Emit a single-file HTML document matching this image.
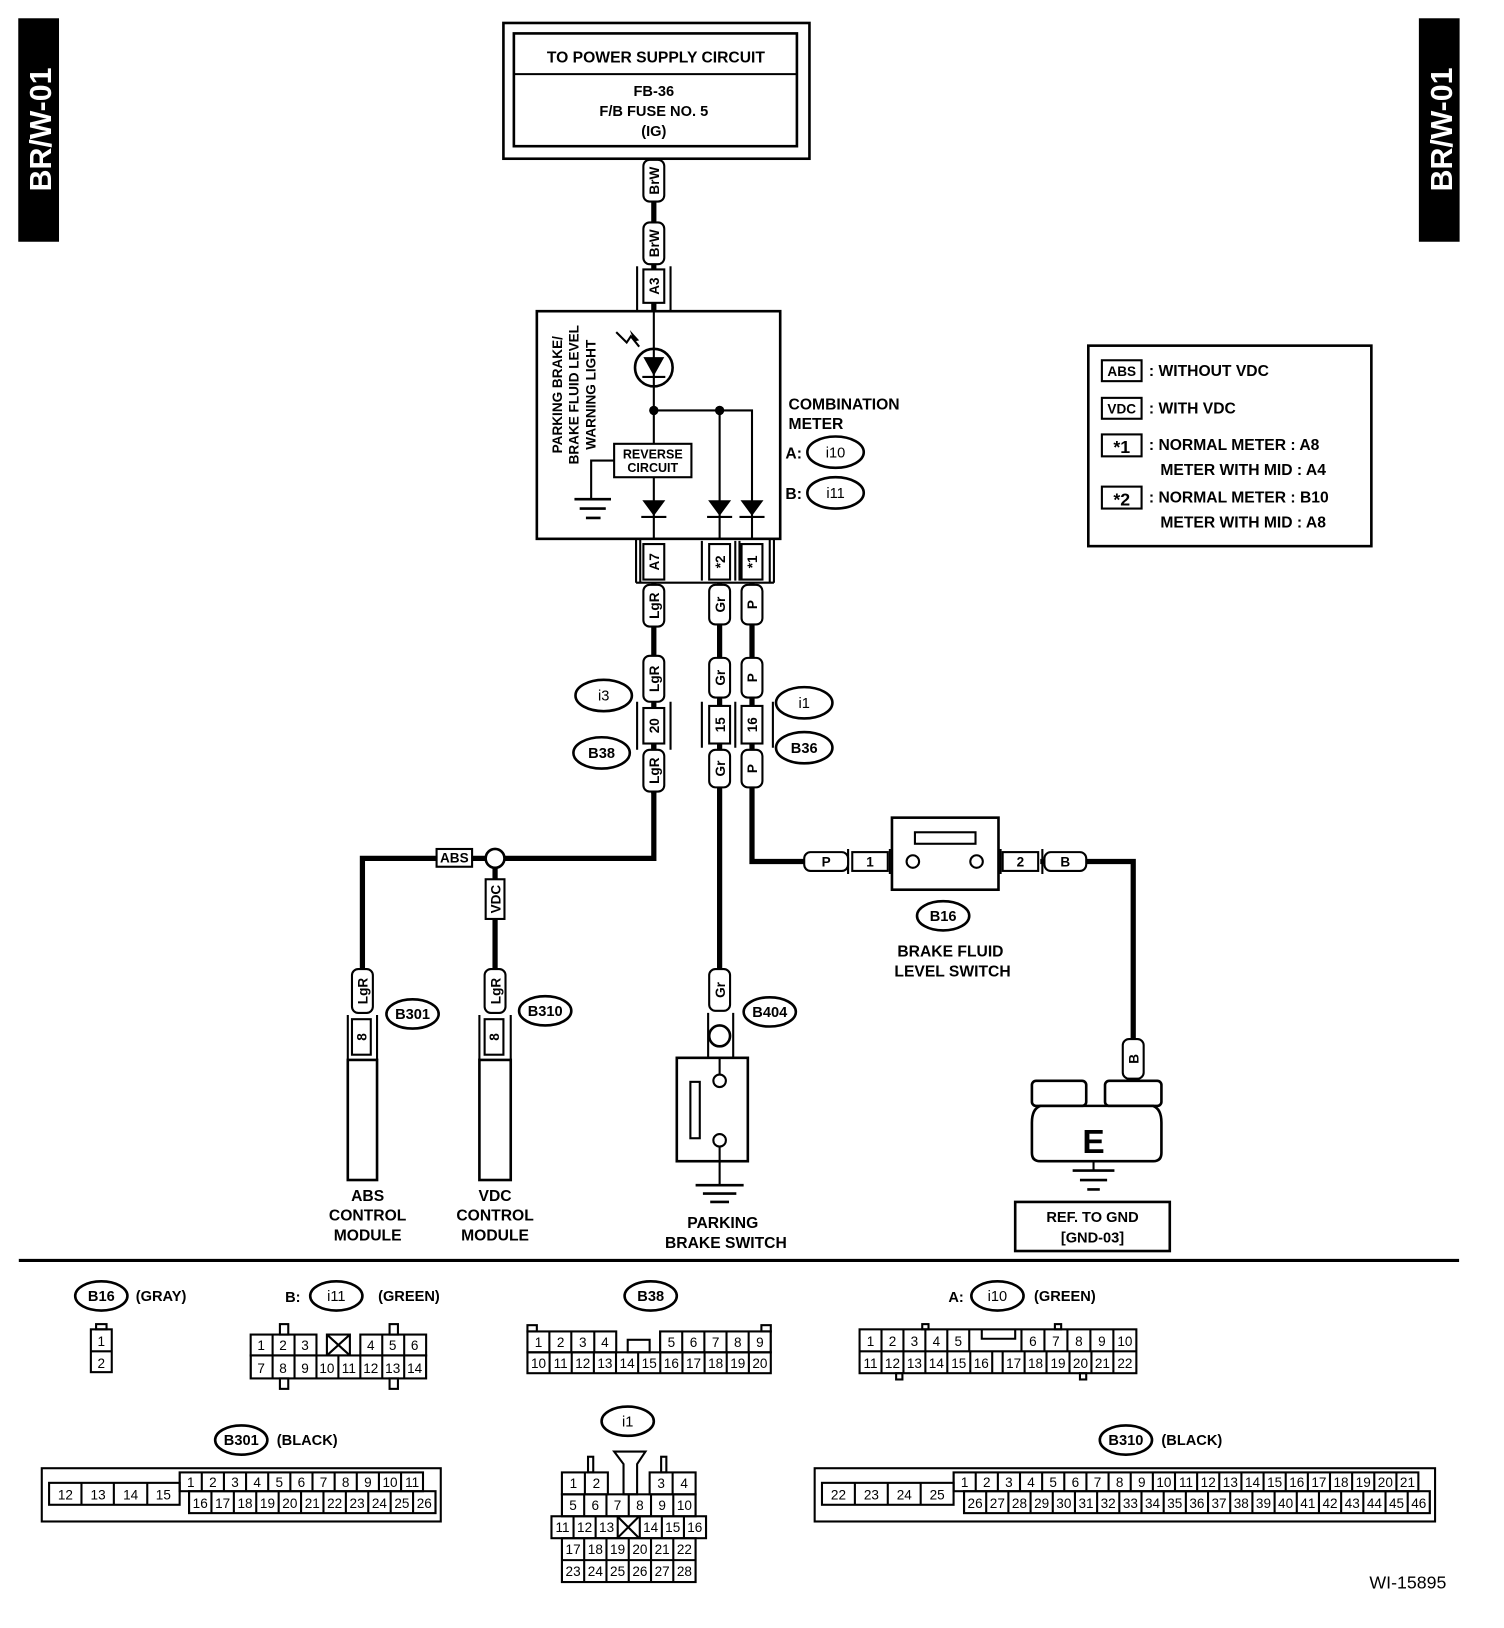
<!DOCTYPE html>
<html><head><meta charset="utf-8"><style>
html,body{margin:0;padding:0;background:#fff;}
svg{display:block;}
text{font-family:"Liberation Sans",sans-serif;font-weight:bold;fill:#000;}
.n{font-weight:normal;font-size:13px;text-anchor:middle;}
.w{font-size:13px;text-anchor:middle;}
.c{text-anchor:middle;}
.r{font-weight:normal;}
</style></head><body>
<svg width="1504" height="1628" viewBox="0 0 1440 1559" preserveAspectRatio="none" xmlns="http://www.w3.org/2000/svg">
<g fill="none" stroke="#000">
<rect x="18" y="18" width="38" height="213" fill="#000"/>
<rect x="1359" y="18" width="38" height="213" fill="#000"/>
<rect x="482" y="22" width="293" height="130" stroke-width="2.5"/>
<rect x="492" y="32" width="271" height="108" stroke-width="2.5"/>
<line x1="492" y1="71" x2="763" y2="71" stroke-width="2"/>
<line x1="626" y1="152" x2="626" y2="298" stroke-width="5"/>
<line x1="626" y1="558" x2="626" y2="760" stroke-width="5"/>
<path d="M626 700 V822 H347 V930" stroke-width="5"/>
<line x1="474" y1="830" x2="474" y2="930" stroke-width="5"/>
<line x1="689" y1="558" x2="689" y2="930" stroke-width="5"/>
<path d="M720 558 V825 H770" stroke-width="5"/>
<path d="M1040 825 H1085 V995" stroke-width="5"/>
<line x1="996" y1="825" x2="1000" y2="825" stroke-width="5"/>
<line x1="610" y1="255" x2="610" y2="298" stroke-width="2"/><line x1="642" y1="255" x2="642" y2="298" stroke-width="2"/>
<rect x="514" y="298" width="233" height="218" stroke-width="2.5" fill="#fff"/>
<line x1="626" y1="298" x2="626" y2="516" stroke-width="2"/>
<circle cx="626" cy="352" r="18" stroke-width="2.5" fill="#fff"/>
<path d="M626 334 V370" stroke-width="2"/>
<path d="M689 393 V516 M626 393 H720 V516" stroke-width="2"/>
<rect x="588" y="425" width="74" height="32" stroke-width="2" fill="#fff"/>
<path d="M588 441 H566 V478" stroke-width="2"/>
<path d="M550 478 H585 M555 487 H580 M561 496 H575" stroke-width="2.5"/>
<path d="M590 318 L600 328 L604 322 L612 332" stroke-width="2"/>
<path d="M609 516 V558 M613 516 V558 M737 516 V558 M741 516 V558 M609 558 H741" stroke-width="2"/>
<path d="M672 518 V556 M704 518 V556 M708 518 V556" stroke-width="2"/>
<path d="M610 672 V718 M642 672 V718" stroke-width="2"/>
<path d="M672 672 V716 M740 672 V716 M704 672 V716" stroke-width="2"/>
<circle cx="474" cy="822" r="9" stroke-width="2.5" fill="#fff"/>
<path d="M333 972 V1015 M361 972 V1015 M459 972 V1015 M489 972 V1015" stroke-width="2"/>
<rect x="333" y="1015" width="28" height="115" stroke-width="2.5"/>
<rect x="459" y="1015" width="30" height="115" stroke-width="2.5"/>
<path d="M678 970 V1013 M702 970 V1013" stroke-width="2"/>
<circle cx="689" cy="992" r="10" stroke-width="2.5"/>
<rect x="648" y="1013" width="68" height="99" stroke-width="2.5"/>
<line x1="689" y1="1013" x2="689" y2="1029" stroke-width="2"/>
<circle cx="689" cy="1035" r="6" stroke-width="2"/>
<circle cx="689" cy="1092" r="6" stroke-width="2"/>
<rect x="661" y="1036" width="9" height="54" stroke-width="2"/>
<line x1="689" y1="1098" x2="689" y2="1134" stroke-width="2"/>
<path d="M666 1135 H712 M673 1143 H705 M680 1151 H698" stroke-width="2.5"/>
<path d="M812 813 V837 M852 813 V837 M958 813 V837 M998 813 V837" stroke-width="2"/>
<rect x="854" y="783" width="102" height="69" stroke-width="2.5" fill="#fff"/>
<rect x="876" y="797" width="58" height="11" stroke-width="2"/>
<circle cx="874" cy="825" r="6" stroke-width="2"/>
<circle cx="935" cy="825" r="6" stroke-width="2"/>
<rect x="988" y="1035" width="52" height="24" rx="4" stroke-width="2.5"/>
<rect x="1058" y="1035" width="54" height="24" rx="4" stroke-width="2.5"/>
<path d="M996 1059 H1104 Q1112 1062 1112 1075 V1104 Q1112 1112 1104 1112 H996 Q988 1112 988 1104 V1075 Q988 1062 996 1059 Z" stroke-width="2.5"/>
<line x1="1047" y1="1112" x2="1047" y2="1120" stroke-width="2"/>
<path d="M1027 1121 H1067 M1034 1130 H1060 M1041 1139 H1053" stroke-width="2.5"/>
<rect x="972" y="1151" width="148" height="47" stroke-width="2.5"/>
<rect x="1042" y="331" width="271" height="192" stroke-width="2.5"/>
<rect x="1055" y="345" width="38" height="20" stroke-width="2"/>
<rect x="1055" y="381" width="38" height="20" stroke-width="2"/>
<rect x="1055" y="416" width="38" height="21" stroke-width="2"/>
<rect x="1055" y="466" width="38" height="21" stroke-width="2"/>
<g stroke-width="2.5" fill="#fff">
<ellipse cx="800" cy="433" rx="27" ry="15"/><ellipse cx="800" cy="472" rx="27" ry="15"/>
<ellipse cx="578" cy="666" rx="27" ry="15"/><ellipse cx="576" cy="721" rx="27" ry="15"/>
<ellipse cx="770" cy="673" rx="27" ry="15"/><ellipse cx="770" cy="716" rx="27" ry="15"/>
<ellipse cx="395" cy="971" rx="25" ry="14"/><ellipse cx="522" cy="968" rx="25" ry="14"/>
<ellipse cx="737" cy="969" rx="25" ry="14"/><ellipse cx="903" cy="877" rx="25" ry="14"/>
<ellipse cx="97" cy="1241" rx="25" ry="14"/><ellipse cx="322" cy="1241" rx="25" ry="14"/>
<ellipse cx="623" cy="1241" rx="25" ry="14"/><ellipse cx="955" cy="1241" rx="25" ry="14"/>
<ellipse cx="231" cy="1379" rx="25" ry="14"/><ellipse cx="601" cy="1361" rx="25" ry="14"/>
<ellipse cx="1078" cy="1379" rx="25" ry="14"/>
</g>
<g stroke-width="2" fill="#fff">
<rect x="616" y="153" width="20" height="40" rx="6"/><rect x="616" y="213" width="20" height="40" rx="6"/>
<rect x="616" y="258" width="20" height="32"/>
<rect x="616" y="521" width="20" height="34"/><rect x="679" y="521" width="20" height="34"/><rect x="710" y="521" width="20" height="34"/>
<rect x="616" y="560" width="20" height="40" rx="6"/><rect x="679" y="560" width="20" height="38" rx="6"/><rect x="710" y="560" width="20" height="38" rx="6"/>
<rect x="616" y="628" width="20" height="44" rx="6"/><rect x="679" y="630" width="20" height="38" rx="6"/><rect x="710" y="630" width="20" height="38" rx="6"/>
<rect x="616" y="678" width="20" height="34"/><rect x="679" y="676" width="20" height="36"/><rect x="710" y="676" width="20" height="36"/>
<rect x="616" y="718" width="20" height="40" rx="6"/><rect x="679" y="718" width="20" height="36" rx="6"/><rect x="710" y="718" width="20" height="36" rx="6"/>
<rect x="418" y="813" width="34" height="17"/>
<rect x="465" y="842" width="18" height="38"/>
<rect x="337" y="928" width="20" height="42" rx="6"/><rect x="464" y="928" width="20" height="42" rx="6"/>
<rect x="337" y="976" width="18" height="34"/><rect x="464" y="976" width="18" height="34"/>
<rect x="679" y="928" width="20" height="40" rx="6"/>
<rect x="770" y="816" width="42" height="18" rx="6"/><rect x="816" y="816" width="34" height="18"/>
<rect x="960" y="816" width="34" height="18"/><rect x="1000" y="816" width="40" height="18" rx="6"/>
<rect x="1075" y="995" width="20" height="38" rx="6"/>
</g>
<g fill="#000" stroke="none">
<path d="M616 342 H636 L626 360 Z"/>
<path d="M615 479 H637 L626 494 Z M678 479 H700 L689 494 Z M709 479 H731 L720 494 Z"/>
<circle cx="626" cy="393" r="4.5"/><circle cx="689" cy="393" r="4.5"/>
<path d="M612 326 L603 316 L607 327 Z"/>
</g>
<path d="M615 361 H637 M614 495 H638 M677 495 H701 M708 495 H732" stroke-width="2"/>
<line x1="18" y1="1207" x2="1397" y2="1207" stroke-width="3"/>

<g stroke-width="2">
<rect x="92" y="1268" width="10" height="5"/><rect x="87" y="1273" width="20" height="41"/><line x1="87" y1="1294" x2="107" y2="1294"/>
<rect x="268" y="1268" width="8" height="10"/><rect x="373" y="1268" width="8" height="10"/>
<rect x="268" y="1320" width="8" height="10"/><rect x="373" y="1320" width="8" height="10"/>
<rect x="240" y="1298" width="168" height="22"/>
<line x1="240" y1="1309" x2="408" y2="1309" stroke-width="22" stroke-dasharray="2 19" stroke-dashoffset="1"/>
<rect x="240" y="1278" width="63" height="20"/><line x1="261" y1="1278" x2="261" y2="1298"/><line x1="282" y1="1278" x2="282" y2="1298"/>
<rect x="345" y="1278" width="63" height="20"/><line x1="366" y1="1278" x2="366" y2="1298"/><line x1="387" y1="1278" x2="387" y2="1298"/>
<rect x="313" y="1278" width="22" height="20"/><path d="M313 1278 L335 1298 M335 1278 L313 1298"/>
<rect x="505" y="1269" width="9" height="6"/><rect x="729" y="1269" width="9" height="6"/>
<rect x="505" y="1295" width="233" height="20"/>
<line x1="505" y1="1305" x2="738" y2="1305" stroke-width="20" stroke-dasharray="2 19.2" stroke-dashoffset="1"/>
<rect x="505" y="1275" width="85" height="20"/><line x1="526" y1="1275" x2="526" y2="1295"/><line x1="547" y1="1275" x2="547" y2="1295"/><line x1="569" y1="1275" x2="569" y2="1295"/>
<rect x="632" y="1275" width="106" height="20"/>
<line x1="632" y1="1285" x2="738" y2="1285" stroke-width="20" stroke-dasharray="2 19.2" stroke-dashoffset="1"/>
<rect x="601" y="1283" width="21" height="12"/>
<rect x="883" y="1268" width="6" height="5"/><rect x="1010" y="1268" width="6" height="5"/>
<rect x="858" y="1315" width="6" height="6"/><rect x="1034" y="1315" width="6" height="6"/>
<rect x="823" y="1273" width="265" height="42"/><line x1="823" y1="1294" x2="1088" y2="1294"/>
<path d="M844 1273 V1294 M865 1273 V1294 M886 1273 V1294 M907 1273 V1294 M928 1273 V1294 M978 1273 V1294 M1000 1273 V1294 M1022 1273 V1294 M1044 1273 V1294 M1066 1273 V1294"/>
<path d="M844 1294 V1315 M865 1294 V1315 M886 1294 V1315 M907 1294 V1315 M929 1294 V1315 M950 1294 V1315 M960 1294 V1315 M981 1294 V1315 M1002 1294 V1315 M1024 1294 V1315 M1045 1294 V1315 M1066 1294 V1315"/>
<path d="M940 1273 V1282 H972 V1273"/>
<rect x="40" y="1406" width="382" height="51"/>
<rect x="47" y="1420" width="125" height="21"/><path d="M78 1420 V1441 M109 1420 V1441 M141 1420 V1441"/>
<rect x="172" y="1410" width="233" height="18"/>
<line x1="172" y1="1419" x2="405" y2="1419" stroke-width="18" stroke-dasharray="2 19.2" stroke-dashoffset="1"/>
<rect x="181" y="1428" width="236" height="21"/>
<line x1="181" y1="1438.5" x2="417" y2="1438.5" stroke-width="21" stroke-dasharray="2 19.45" stroke-dashoffset="1"/>
<rect x="780" y="1406" width="594" height="51"/>
<rect x="787" y="1420" width="126" height="21"/><path d="M818.5 1420 V1441 M850 1420 V1441 M881.5 1420 V1441"/>
<rect x="913" y="1410" width="445" height="18"/>
<line x1="913" y1="1419" x2="1358" y2="1419" stroke-width="18" stroke-dasharray="2 19.2" stroke-dashoffset="1"/>
<rect x="923" y="1428" width="446" height="21"/>
<line x1="923" y1="1438.5" x2="1369" y2="1438.5" stroke-width="21" stroke-dasharray="2 19.24" stroke-dashoffset="1"/>
<path d="M588 1390 H618 L610 1402 V1431 H597 V1402 Z"/>
<rect x="563" y="1395" width="5" height="15"/><rect x="633" y="1395" width="5" height="15"/>
<rect x="538" y="1410" width="44" height="21"/><line x1="560" y1="1410" x2="560" y2="1431"/>
<rect x="622" y="1410" width="44" height="21"/><line x1="644" y1="1410" x2="644" y2="1431"/>
<rect x="538" y="1431" width="128" height="21"/>
<line x1="538" y1="1441.5" x2="666" y2="1441.5" stroke-width="21" stroke-dasharray="2 19.33" stroke-dashoffset="1"/>
<rect x="528" y="1452" width="148" height="21"/>
<line x1="528" y1="1462.5" x2="676" y2="1462.5" stroke-width="21" stroke-dasharray="2 19.14" stroke-dashoffset="1"/>
<path d="M591 1452 L612 1473 M612 1452 L591 1473"/>
<rect x="538" y="1473" width="128" height="42"/><line x1="538" y1="1494" x2="666" y2="1494"/>
<line x1="538" y1="1494" x2="666" y2="1494" stroke-width="42" stroke-dasharray="2 19.33" stroke-dashoffset="1"/>
</g>
</g>

<text transform="translate(49,124) rotate(-90)" class="c" style="fill:#fff;font-size:29px">BR/W-01</text>
<text transform="translate(1390,124) rotate(-90)" class="c" style="fill:#fff;font-size:29px">BR/W-01</text>
<text x="628" y="60" class="c" font-size="15">TO POWER SUPPLY CIRCUIT</text>
<text x="626" y="92" class="c" font-size="14">FB-36</text>
<text x="626" y="111" class="c" font-size="14">F/B FUSE NO. 5</text>
<text x="626" y="130" class="c" font-size="14">(IG)</text>
<g class="w">
<text class="w" transform="translate(631,173) rotate(-90)">BrW</text>
<text class="w" transform="translate(631,233) rotate(-90)">BrW</text>
<text class="w" transform="translate(631,274) rotate(-90)">A3</text>
<text class="w" transform="translate(631,538) rotate(-90)">A7</text>
<text class="w" transform="translate(694,538) rotate(-90)">*2</text>
<text class="w" transform="translate(725,538) rotate(-90)">*1</text>
<text class="w" transform="translate(631,580) rotate(-90)">LgR</text>
<text class="w" transform="translate(694,579) rotate(-90)">Gr</text>
<text class="w" transform="translate(725,579) rotate(-90)">P</text>
<text class="w" transform="translate(631,650) rotate(-90)">LgR</text>
<text class="w" transform="translate(694,649) rotate(-90)">Gr</text>
<text class="w" transform="translate(725,649) rotate(-90)">P</text>
<text class="w" transform="translate(631,695) rotate(-90)">20</text>
<text class="w" transform="translate(694,694) rotate(-90)">15</text>
<text class="w" transform="translate(725,694) rotate(-90)">16</text>
<text class="w" transform="translate(631,738) rotate(-90)">LgR</text>
<text class="w" transform="translate(694,736) rotate(-90)">Gr</text>
<text class="w" transform="translate(725,736) rotate(-90)">P</text>
<text class="w" x="435" y="826" font-size="12">ABS</text>
<text class="w" transform="translate(479,861) rotate(-90)" font-size="12">VDC</text>
<text class="w" transform="translate(352,949) rotate(-90)">LgR</text>
<text class="w" transform="translate(479,949) rotate(-90)">LgR</text>
<text class="w" transform="translate(351,993) rotate(-90)" font-size="12">8</text>
<text class="w" transform="translate(478,993) rotate(-90)" font-size="12">8</text>
<text class="w" transform="translate(694,948) rotate(-90)">Gr</text>
<text class="w" x="791" y="830">P</text>
<text class="w" x="833" y="830">1</text>
<text class="w" x="977" y="830">2</text>
<text class="w" x="1020" y="830">B</text>
<text class="w" transform="translate(1090,1014) rotate(-90)">B</text>
</g>
<g font-size="13">
<text transform="translate(538,378) rotate(-90)" class="c">PARKING BRAKE/</text>
<text transform="translate(554,378) rotate(-90)" class="c">BRAKE FLUID LEVEL</text>
<text transform="translate(570,378) rotate(-90)" class="c">WARNING LIGHT</text>
<text x="625" y="439" class="c" font-size="12">REVERSE</text>
<text x="625" y="452" class="c" font-size="12">CIRCUIT</text>
</g>
<g font-size="15">
<text x="755" y="392">COMBINATION</text>
<text x="755" y="411">METER</text>
<text x="752" y="439">A:</text>
<text x="752" y="478">B:</text>
</g>
<g font-size="14">
<text x="800" y="438" class="c r">i10</text>
<text x="800" y="477" class="c r">i11</text>
<text x="578" y="671" class="c r">i3</text>
<text x="576" y="726" class="c">B38</text>
<text x="770" y="678" class="c r">i1</text>
<text x="770" y="721" class="c">B36</text>
<text x="395" y="976" class="c">B301</text>
<text x="522" y="973" class="c">B310</text>
<text x="737" y="974" class="c">B404</text>
<text x="903" y="882" class="c">B16</text>
</g>
<g font-size="15">
<text x="352" y="1150" class="c">ABS</text><text x="352" y="1169" class="c">CONTROL</text><text x="352" y="1188" class="c">MODULE</text>
<text x="474" y="1150" class="c">VDC</text><text x="474" y="1169" class="c">CONTROL</text><text x="474" y="1188" class="c">MODULE</text>
<text x="692" y="1176" class="c">PARKING</text><text x="695" y="1195" class="c">BRAKE SWITCH</text>
<text x="910" y="916" class="c">BRAKE FLUID</text><text x="912" y="935" class="c">LEVEL SWITCH</text>
<text x="1046" y="1170" class="c" font-size="14">REF. TO GND</text><text x="1046" y="1190" class="c" font-size="14">[GND-03]</text>
</g>
<text x="1047" y="1104" class="c" font-size="32">E</text>
<g font-size="15">
<text x="1074" y="360" class="c" font-size="13">ABS</text><text x="1100" y="360">: WITHOUT VDC</text>
<text x="1074" y="396" class="c" font-size="13">VDC</text><text x="1100" y="396">: WITH VDC</text>
<text x="1074" y="434" class="c" font-size="17">*1</text><text x="1100" y="431">: NORMAL METER  : A8</text>
<text x="1111" y="455">METER WITH MID : A4</text>
<text x="1074" y="484" class="c" font-size="17">*2</text><text x="1100" y="481">: NORMAL METER  : B10</text>
<text x="1111" y="505">METER WITH MID : A8</text>
</g>
<g font-size="14">
<text x="97" y="1246" class="c">B16</text><text x="130" y="1246">(GRAY)</text>
<text x="273" y="1247">B:</text><text x="322" y="1246" class="c r">i11</text><text x="362" y="1246">(GREEN)</text>
<text x="623" y="1246" class="c">B38</text>
<text x="908" y="1247">A:</text><text x="955" y="1246" class="c r">i10</text><text x="990" y="1246">(GREEN)</text>
<text x="231" y="1384" class="c">B301</text><text x="265" y="1384">(BLACK)</text>
<text x="601" y="1366" class="c r">i1</text>
<text x="1078" y="1384" class="c">B310</text><text x="1112" y="1384">(BLACK)</text>
</g>
<text x="1348" y="1521" class="c r" font-size="17">WI-15895</text>
<g class="n">
<text class="n" x="97" y="1289">1</text><text class="n" x="97" y="1310">2</text>
<text class="n" x="250" y="1293">1</text><text class="n" x="271" y="1293">2</text><text class="n" x="292" y="1293">3</text><text class="n" x="355" y="1293">4</text><text class="n" x="376" y="1293">5</text><text class="n" x="397" y="1293">6</text>
<text class="n" x="250" y="1315">7</text><text class="n" x="271" y="1315">8</text><text class="n" x="292" y="1315">9</text><text class="n" x="313" y="1315">10</text><text class="n" x="334" y="1315">11</text><text class="n" x="355" y="1315">12</text><text class="n" x="376" y="1315">13</text><text class="n" x="397" y="1315">14</text>
<text class="n" x="515.6" y="1290">1</text><text class="n" x="536.8" y="1290">2</text><text class="n" x="558" y="1290">3</text><text class="n" x="579.2" y="1290">4</text><text class="n" x="642.8" y="1290">5</text><text class="n" x="664" y="1290">6</text><text class="n" x="685.2" y="1290">7</text><text class="n" x="706.4" y="1290">8</text><text class="n" x="727.6" y="1290">9</text>
<text class="n" x="515.6" y="1310">10</text><text class="n" x="536.8" y="1310">11</text><text class="n" x="558" y="1310">12</text><text class="n" x="579.2" y="1310">13</text><text class="n" x="600.4" y="1310">14</text><text class="n" x="621.6" y="1310">15</text><text class="n" x="642.8" y="1310">16</text><text class="n" x="664" y="1310">17</text><text class="n" x="685.2" y="1310">18</text><text class="n" x="706.4" y="1310">19</text><text class="n" x="727.6" y="1310">20</text>
<text class="n" x="833.5" y="1289">1</text><text class="n" x="854.5" y="1289">2</text><text class="n" x="875.5" y="1289">3</text><text class="n" x="896.5" y="1289">4</text><text class="n" x="917.5" y="1289">5</text><text class="n" x="989" y="1289">6</text><text class="n" x="1011" y="1289">7</text><text class="n" x="1033" y="1289">8</text><text class="n" x="1055" y="1289">9</text><text class="n" x="1077" y="1289">10</text>
<text class="n" x="833.5" y="1310">11</text><text class="n" x="854.5" y="1310">12</text><text class="n" x="875.5" y="1310">13</text><text class="n" x="896.5" y="1310">14</text><text class="n" x="918" y="1310">15</text><text class="n" x="939.5" y="1310">16</text><text class="n" x="970.5" y="1310">17</text><text class="n" x="991.5" y="1310">18</text><text class="n" x="1013" y="1310">19</text><text class="n" x="1034.5" y="1310">20</text><text class="n" x="1055.5" y="1310">21</text><text class="n" x="1077" y="1310">22</text>
<text class="n" x="62.6" y="1436">12</text><text class="n" x="93.9" y="1436">13</text><text class="n" x="125.1" y="1436">14</text><text class="n" x="156.4" y="1436">15</text>
<text class="n" x="182.6" y="1424">1</text><text class="n" x="203.8" y="1424">2</text><text class="n" x="225" y="1424">3</text><text class="n" x="246.2" y="1424">4</text><text class="n" x="267.4" y="1424">5</text><text class="n" x="288.6" y="1424">6</text><text class="n" x="309.8" y="1424">7</text><text class="n" x="331" y="1424">8</text><text class="n" x="352.2" y="1424">9</text><text class="n" x="373.4" y="1424">10</text><text class="n" x="394.6" y="1424">11</text>
<text class="n" x="191.7" y="1444">16</text><text class="n" x="213.2" y="1444">17</text><text class="n" x="234.6" y="1444">18</text><text class="n" x="256.1" y="1444">19</text><text class="n" x="277.5" y="1444">20</text><text class="n" x="299" y="1444">21</text><text class="n" x="320.4" y="1444">22</text><text class="n" x="341.9" y="1444">23</text><text class="n" x="363.3" y="1444">24</text><text class="n" x="384.8" y="1444">25</text><text class="n" x="406.2" y="1444">26</text>
<text class="n" x="802.8" y="1436">22</text><text class="n" x="834.3" y="1436">23</text><text class="n" x="865.8" y="1436">24</text><text class="n" x="897.3" y="1436">25</text>
<text class="n" x="923.6" y="1424">1</text><text class="n" x="944.8" y="1424">2</text><text class="n" x="966" y="1424">3</text><text class="n" x="987.2" y="1424">4</text><text class="n" x="1008.4" y="1424">5</text><text class="n" x="1029.6" y="1424">6</text><text class="n" x="1050.8" y="1424">7</text><text class="n" x="1072" y="1424">8</text><text class="n" x="1093.2" y="1424">9</text><text class="n" x="1114.4" y="1424">10</text><text class="n" x="1135.6" y="1424">11</text><text class="n" x="1156.8" y="1424">12</text><text class="n" x="1178" y="1424">13</text><text class="n" x="1199.2" y="1424">14</text><text class="n" x="1220.4" y="1424">15</text><text class="n" x="1241.6" y="1424">16</text><text class="n" x="1262.8" y="1424">17</text><text class="n" x="1284" y="1424">18</text><text class="n" x="1305.2" y="1424">19</text><text class="n" x="1326.4" y="1424">20</text><text class="n" x="1347.6" y="1424">21</text>
<text class="n" x="933.6" y="1444">26</text><text class="n" x="954.9" y="1444">27</text><text class="n" x="976.1" y="1444">28</text><text class="n" x="997.3" y="1444">29</text><text class="n" x="1018.6" y="1444">30</text><text class="n" x="1039.8" y="1444">31</text><text class="n" x="1061" y="1444">32</text><text class="n" x="1082.3" y="1444">33</text><text class="n" x="1103.5" y="1444">34</text><text class="n" x="1124.8" y="1444">35</text><text class="n" x="1146" y="1444">36</text><text class="n" x="1167.2" y="1444">37</text><text class="n" x="1188.5" y="1444">38</text><text class="n" x="1209.7" y="1444">39</text><text class="n" x="1230.9" y="1444">40</text><text class="n" x="1252.2" y="1444">41</text><text class="n" x="1273.4" y="1444">42</text><text class="n" x="1294.7" y="1444">43</text><text class="n" x="1315.9" y="1444">44</text><text class="n" x="1337.1" y="1444">45</text><text class="n" x="1358.4" y="1444">46</text>
<text class="n" x="549" y="1425">1</text><text class="n" x="571" y="1425">2</text><text class="n" x="633" y="1425">3</text><text class="n" x="655" y="1425">4</text>
<text class="n" x="548.7" y="1446">5</text><text class="n" x="570" y="1446">6</text><text class="n" x="591.3" y="1446">7</text><text class="n" x="612.7" y="1446">8</text><text class="n" x="634" y="1446">9</text><text class="n" x="655.3" y="1446">10</text>
<text class="n" x="538.6" y="1467">11</text><text class="n" x="559.7" y="1467">12</text><text class="n" x="580.8" y="1467">13</text><text class="n" x="623" y="1467">14</text><text class="n" x="644.1" y="1467">15</text><text class="n" x="665.2" y="1467">16</text>
<text class="n" x="548.7" y="1488">17</text><text class="n" x="570" y="1488">18</text><text class="n" x="591.3" y="1488">19</text><text class="n" x="612.7" y="1488">20</text><text class="n" x="634" y="1488">21</text><text class="n" x="655.3" y="1488">22</text>
<text class="n" x="548.7" y="1509">23</text><text class="n" x="570" y="1509">24</text><text class="n" x="591.3" y="1509">25</text><text class="n" x="612.7" y="1509">26</text><text class="n" x="634" y="1509">27</text><text class="n" x="655.3" y="1509">28</text>
</g>
</svg>
</body></html>
